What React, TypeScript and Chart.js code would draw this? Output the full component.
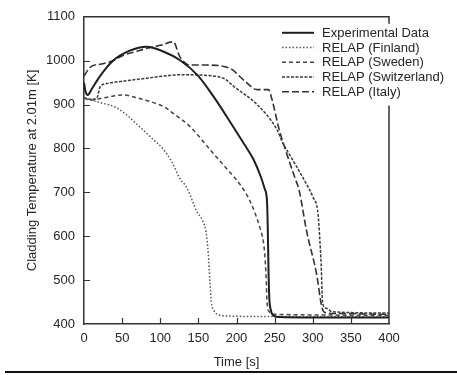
import React, { useEffect, useRef } from "react";
import { Chart, registerables } from "chart.js";

Chart.register(...registerables);

// ---- data ----
const X_TICKS = [0, 50, 100, 150, 200, 250, 300, 350, 400];
const Y_TICKS = [400, 500, 600, 700, 800, 900, 1000, 1100];

const expT = [0, 2, 5, 10, 21, 38, 60, 82, 104, 126, 150, 170, 190, 210, 222, 232, 237, 240, 241, 242, 243, 245, 248, 255, 300, 400];
const expY = [950, 930, 922, 935, 965, 1000, 1023, 1032, 1021, 1001, 965, 918, 865, 810, 776, 735, 708, 680, 620, 520, 460, 432, 420, 416, 415, 415];

const finT = [0, 20, 40, 55, 67, 80, 90, 104, 115, 126, 135, 148, 156, 160, 163, 165, 167, 170, 175, 190, 250, 400];
const finY = [915, 905, 895, 878, 859, 838, 822, 798, 770, 731, 710, 656, 634, 610, 560, 500, 450, 432, 422, 418, 417, 416];

const sweT = [0, 8, 25, 51, 70, 90, 105, 117, 139, 165, 183, 205, 218, 231, 235, 237, 239, 240, 243, 250, 400];
const sweY = [915, 910, 915, 922, 915, 905, 895, 880, 850, 798, 762, 717, 679, 618, 590, 560, 500, 450, 428, 422, 420];

const swiT = [0, 10, 17, 21, 30, 50, 82, 110, 126, 165, 185, 196, 227, 253, 260, 275, 292, 300, 307, 309, 311, 313, 318, 325, 400];
const swiY = [915, 912, 915, 940, 948, 953, 960, 966, 968, 966, 958, 942, 900, 843, 815, 770, 718, 690, 650, 600, 537, 447, 436, 428, 425];

const itaT = [0, 8, 25, 38, 51, 67, 82, 100, 117, 126, 139, 161, 191, 210, 227, 242, 246, 256, 264, 277, 282, 292, 305, 312, 316, 330, 400];
const itaY = [965, 985, 993, 1000, 1012, 1020, 1028, 1035, 1043, 1008, 990, 990, 983, 955, 934, 934, 915, 843, 798, 731, 706, 611, 514, 438, 426, 424, 422];

const LABELS = [
  "Experimental Data",
  "RELAP (Finland)",
  "RELAP (Sweden)",
  "RELAP (Switzerland)",
  "RELAP (Italy)",
];

const X_TITLE = "Time [s]";
const Y_TITLE = "Cladding Temperature at 2.01m [K]";

// ---- styles ----
const FONT = "'Liberation Sans', Arial, Helvetica, sans-serif";
const TEXT = "#262626";
const AXIS = "#333333";

const pts = (t: number[], v: number[]) => t.map((x, i) => ({ x, y: v[i] }));

const framePlugin = {
  id: "frameAndTicks",
  afterDatasetsDraw(chart: any) {
    const { ctx, chartArea } = chart;
    const { left, right, top, bottom } = chartArea;
    const xs = chart.scales.x;
    const ys = chart.scales.y;
    ctx.save();
    ctx.strokeStyle = AXIS;
    ctx.lineWidth = 1.5;
    ctx.setLineDash([]);
    ctx.beginPath();
    ctx.moveTo(left, top);
    ctx.lineTo(right, top);
    ctx.lineTo(right, bottom);
    ctx.stroke();
    ctx.lineWidth = 1.2;
    ctx.beginPath();
    xs.ticks.forEach((t: any) => {
      if (t.value > xs.min && t.value < xs.max) {
        const px = Math.round(xs.getPixelForValue(t.value)) + 0.5;
        ctx.moveTo(px, bottom);
        ctx.lineTo(px, bottom - 6);
      }
    });
    ys.ticks.forEach((t: any) => {
      if (t.value > ys.min && t.value < ys.max) {
        const py = Math.round(ys.getPixelForValue(t.value)) + 0.5;
        ctx.moveTo(left, py);
        ctx.lineTo(left + 6, py);
      }
    });
    ctx.stroke();
    ctx.restore();
  },
  afterDraw(chart: any) {
    const { ctx, chartArea } = chart;
    const lx = chartArea.right - 107;
    const ly = chartArea.top + 16;
    const step = 14.75;
    ctx.save();
    ctx.fillStyle = "#ffffff";
    ctx.fillRect(lx - 3, chartArea.top + 7, 170, step * 5 + 8);
    chart.data.datasets.forEach((ds: any, i: number) => {
      const y = ly + i * step;
      ctx.strokeStyle = ds.borderColor;
      ctx.lineWidth = ds.borderWidth;
      ctx.setLineDash(ds.borderDash || []);
      ctx.beginPath();
      ctx.moveTo(lx, y);
      ctx.lineTo(lx + 32, y);
      ctx.stroke();
      ctx.setLineDash([]);
      ctx.fillStyle = TEXT;
      ctx.font = `13px ${FONT}`;
      ctx.textBaseline = "middle";
      ctx.textAlign = "left";
      ctx.fillText(ds.label, lx + 40, y + 0.5);
    });
    ctx.restore();
  },
};

export default function App() {
  const ref = useRef<HTMLCanvasElement | null>(null);

  useEffect(() => {
    if (!ref.current) return;
    Chart.defaults.font.family = FONT;
    Chart.defaults.font.size = 13;
    Chart.defaults.color = TEXT;
    const chart = new Chart(ref.current, {
      type: "line",
      data: {
        datasets: [
          { label: LABELS[0], data: pts(expT, expY), borderColor: "#1e1e1e", borderWidth: 2, borderDash: [] },
          { label: LABELS[1], data: pts(finT, finY), borderColor: "#555555", borderWidth: 1.5, borderDash: [1.5, 2] },
          { label: LABELS[2], data: pts(sweT, sweY), borderColor: "#444444", borderWidth: 1.5, borderDash: [4, 3] },
          { label: LABELS[3], data: pts(swiT, swiY), borderColor: "#3a3a3a", borderWidth: 1.5, borderDash: [3, 1.5] },
          { label: LABELS[4], data: pts(itaT, itaY), borderColor: "#333333", borderWidth: 1.6, borderDash: [7, 3] },
        ].map((d) => ({ ...d, pointRadius: 0, fill: false, tension: 0, cubicInterpolationMode: "monotone" as const })),
      },
      options: {
        animation: false,
        responsive: false,
        devicePixelRatio: 1,
        layout: { padding: { top: 13, right: 68, left: 0, bottom: 0 } },
        plugins: { legend: { display: false }, tooltip: { enabled: false } },
        scales: {
          x: {
            type: "linear",
            min: 0,
            max: 400,
            afterBuildTicks: (s: any) => { s.ticks = X_TICKS.map((v) => ({ value: v })); },
            afterFit: (s: any) => { s.height = 51; },
            grid: { drawOnChartArea: false, drawTicks: false },
            border: { display: true, color: AXIS, width: 1.5 },
            ticks: { padding: 7, color: TEXT, font: { size: 13 }, maxRotation: 0, callback: (v: any) => String(v) },
            title: { display: true, text: X_TITLE, color: TEXT, font: { size: 13 }, padding: { top: 0, bottom: 5 } },
          },
          y: {
            type: "linear",
            min: 400,
            max: 1100,
            afterBuildTicks: (s: any) => { s.ticks = Y_TICKS.map((v) => ({ value: v })); },
            afterFit: (s: any) => { s.width = 84; },
            grid: { drawOnChartArea: false, drawTicks: false },
            border: { display: true, color: AXIS, width: 1.5 },
            ticks: { padding: 9, color: TEXT, font: { size: 13 }, callback: (v: any) => String(v) },
            title: { display: true, text: Y_TITLE, color: TEXT, font: { size: 13 }, padding: { top: 25, bottom: 0 } },
          },
        },
      },
      plugins: [framePlugin],
    });
    return () => chart.destroy();
  }, []);

  return (
    <div style={{ position: "absolute", left: 0, top: 0, width: 457, height: 375, background: "#fff", overflow: "hidden" }}>
      <canvas ref={ref} width={457} height={375} style={{ display: "block" }} />
      <div style={{ position: "absolute", left: 5, top: 371, width: 452, height: 2, background: "#111" }} />
    </div>
  );
}
